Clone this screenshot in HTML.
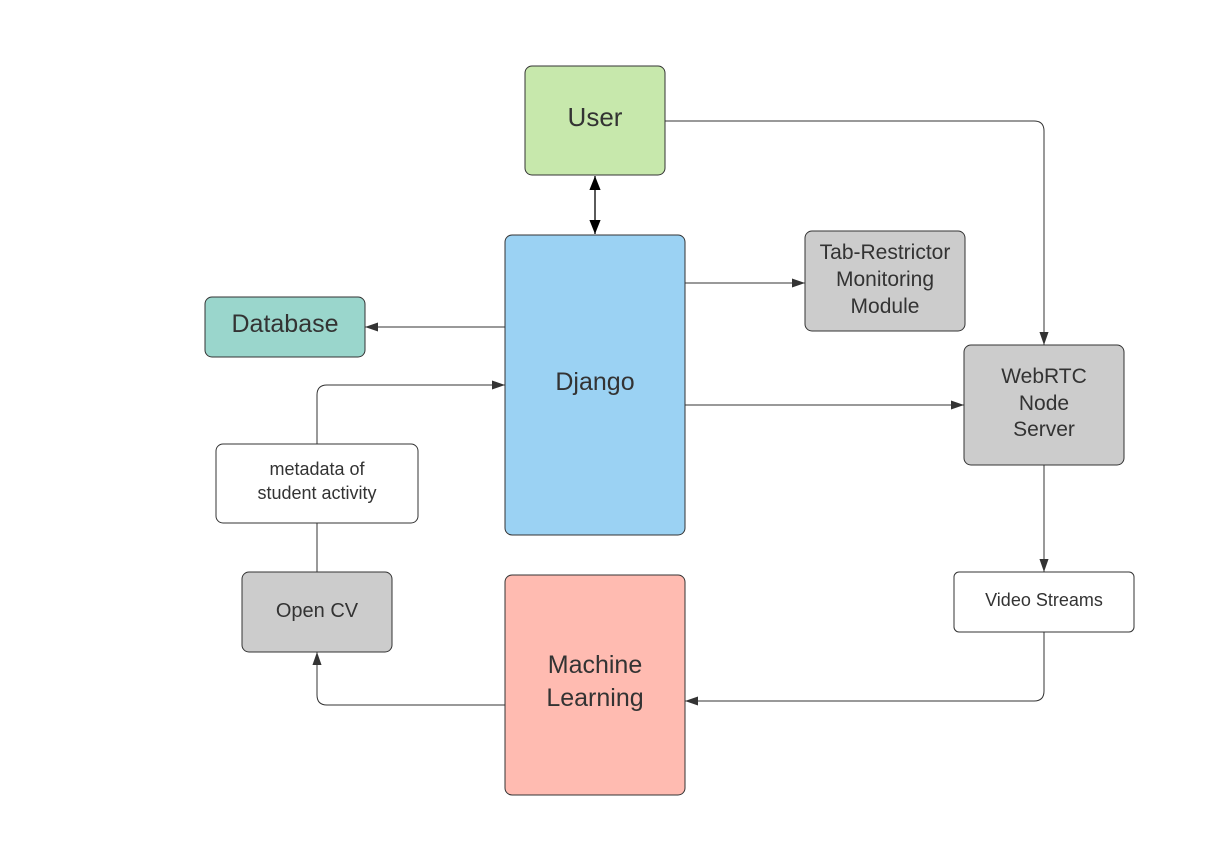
<!DOCTYPE html>
<html><head><meta charset="utf-8"><style>
html,body{margin:0;padding:0;background:#fff;}
svg text{font-family:"Liberation Sans",sans-serif;fill:#333;text-anchor:middle;}
</style></head><body>
<svg width="1213" height="856" viewBox="0 0 1213 856" xmlns="http://www.w3.org/2000/svg">
<defs>
<marker id="a" viewBox="0 0 10 10" refX="10" refY="5" markerWidth="13" markerHeight="13" markerUnits="userSpaceOnUse" orient="auto-start-reverse"><path d="M0,1.5 L10,5 L0,8.5 z" fill="#333"/></marker>
<marker id="b" viewBox="0 0 10 10" refX="10" refY="5" markerWidth="14" markerHeight="14" markerUnits="userSpaceOnUse" orient="auto-start-reverse"><path d="M0,1 L10,5 L0,9 z" fill="#000"/></marker>
</defs>
<g fill="none" stroke="#333" stroke-width="1">
<line x1="595" y1="176" x2="595" y2="234" stroke="#000" stroke-width="1.3" marker-start="url(#b)" marker-end="url(#b)"/>
<path d="M665,121 H1034 Q1044,121 1044,131 V345" marker-end="url(#a)"/>
<line x1="685" y1="283" x2="805" y2="283" marker-end="url(#a)"/>
<line x1="505" y1="327" x2="365" y2="327" marker-end="url(#a)"/>
<line x1="685" y1="405" x2="964" y2="405" marker-end="url(#a)"/>
<path d="M317,444 V395 Q317,385 327,385 H505" marker-end="url(#a)"/>
<line x1="317" y1="572" x2="317" y2="523"/>
<path d="M505,705 H327 Q317,705 317,695 V652" marker-end="url(#a)"/>
<line x1="1044" y1="465" x2="1044" y2="572" marker-end="url(#a)"/>
<path d="M1044,632 V691 Q1044,701 1034,701 H685" marker-end="url(#a)"/>
</g>
<g stroke="#333" stroke-width="1">
<rect x="525" y="66" width="140" height="109" rx="7" fill="#c7e8ac"/>
<rect x="505" y="235" width="180" height="300" rx="7" fill="#9bd2f3"/>
<rect x="805" y="231" width="160" height="100" rx="7" fill="#cccccc"/>
<rect x="205" y="297" width="160" height="60" rx="7" fill="#9ad6cc"/>
<rect x="964" y="345" width="160" height="120" rx="7" fill="#cccccc"/>
<rect x="216" y="444" width="202" height="79" rx="7" fill="#fff"/>
<rect x="242" y="572" width="150" height="80" rx="7" fill="#cccccc"/>
<rect x="954" y="572" width="180" height="60" rx="5" fill="#fff"/>
<rect x="505" y="575" width="180" height="220" rx="7" fill="#ffbbb1"/>
</g>
<text x="595" y="126" font-size="26">User</text>
<text x="595" y="390" font-size="25">Django</text>
<text x="285" y="332" font-size="25">Database</text>
<text x="885" y="259" font-size="21">Tab-Restrictor</text>
<text x="885" y="286" font-size="21">Monitoring</text>
<text x="885" y="313" font-size="21">Module</text>
<text x="1044" y="383" font-size="21">WebRTC</text>
<text x="1044" y="410" font-size="21">Node</text>
<text x="1044" y="436" font-size="21">Server</text>
<text x="317" y="475" font-size="18">metadata of</text>
<text x="317" y="499" font-size="18">student activity</text>
<text x="317" y="617" font-size="20">Open CV</text>
<text x="1044" y="606" font-size="18">Video Streams</text>
<text x="595" y="673" font-size="25">Machine</text>
<text x="595" y="706" font-size="25">Learning</text>
</svg>
</body></html>
